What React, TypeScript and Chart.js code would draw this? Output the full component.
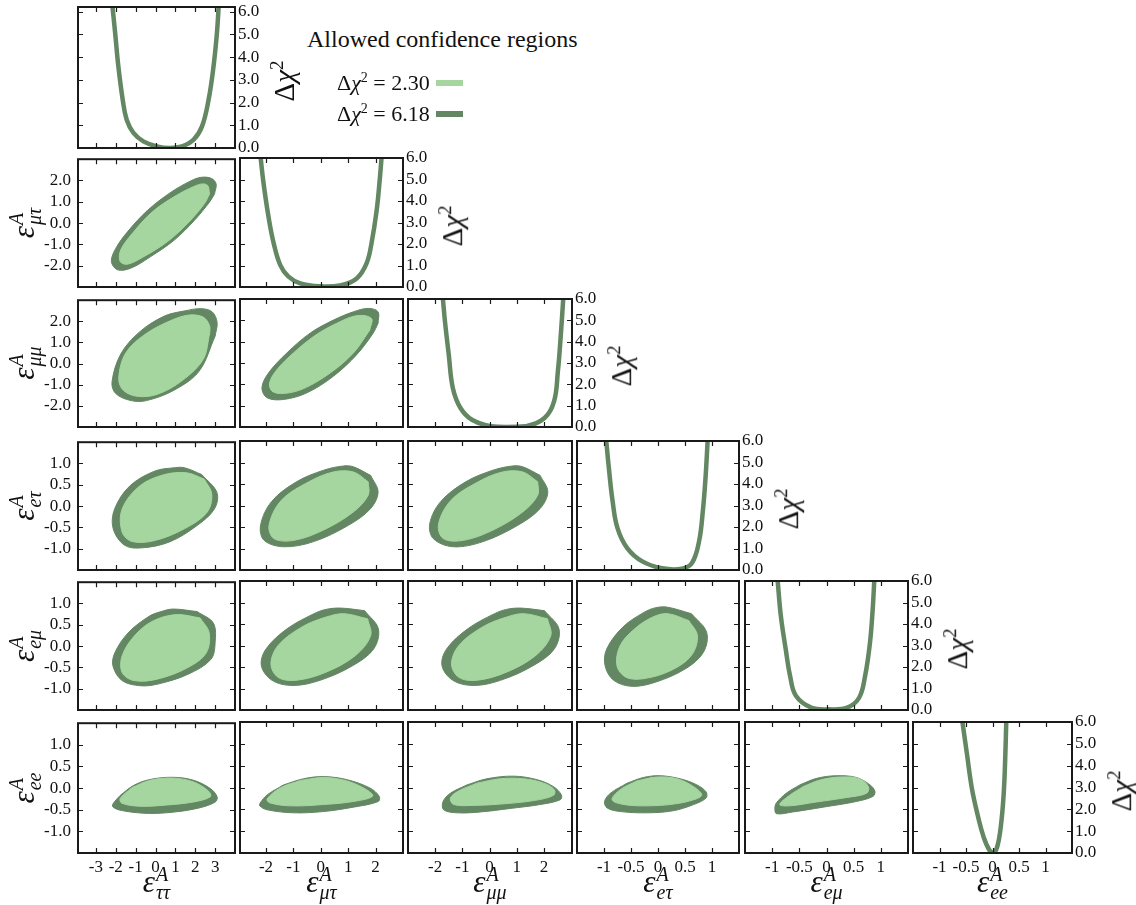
import React, { useEffect, useRef } from 'react';
import { Chart, registerables } from 'chart.js';

Chart.register(...registerables);

// ---------------- data ----------------
const PARAM_SUBS = ['ττ', 'μτ', 'μμ', 'eτ', 'eμ', 'ee'];
const LEVELS = ['2.30', '6.18'];

// axis ranges per parameter (as x axis) and per row (as y axis)
const X_MIN = [-3.9, -2.95, -3.0, -1.5, -1.5, -1.5];
const X_MAX = [4.0, 3.0, 3.03, 1.5, 1.5, 1.5];
const Y_MIN = [0, -3, -3, -1.5, -1.5, -1.5];
const Y_MAX = [6.2, 3, 3, 1.5, 1.5, 1.5];
const CHI_MAX = [6.2, 6, 6, 6, 6, 6];

const TICKS_TT = [-3, -2, -1, 0, 1, 2, 3];
const TICKS_MU = [-2, -1, 0, 1, 2];
const TICKS_E = [-1, -0.5, 0, 0.5, 1];
const TICK_LABELS_TT = ['-3', '-2', '-1', '0', '1', '2', '3'];
const TICK_LABELS_MU = ['-2', '-1', '0', '1', '2'];
const TICK_LABELS_E = ['-1', '-0.5', '0', '0.5', '1'];
const YTICK_LABELS_MU = ['-2.0', '-1.0', '0.0', '1.0', '2.0'];
const YTICK_LABELS_E = ['-1.0', '-0.5', '0.0', '0.5', '1.0'];
const CHI_TICKS = [0, 1, 2, 3, 4, 5, 6];
const CHI_TICK_LABELS = ['0.0', '1.0', '2.0', '3.0', '4.0', '5.0', '6.0'];

// 1D profiles  [epsilon, delta chi^2]
const CHI_TT = [[-2.17, 6.25], [-2.03, 5.05], [-1.87, 3.59], [-1.65, 2.12], [-1.45, 1.24], [-1.11, 0.66], [-0.61, 0.29], [0.07, 0.07], [0.74, 0.0], [1.33, 0.07], [1.92, 0.37], [2.34, 0.95], [2.67, 2.12], [2.92, 3.59], [3.09, 5.05], [3.18, 6.25]];
const CHI_MT = [[-2.2, 6.05], [-2.09, 4.82], [-1.91, 3.27], [-1.72, 2.03], [-1.48, 1.02], [-1.18, 0.48], [-0.75, 0.17], [-0.03, 0.03], [0.7, 0.07], [1.31, 0.4], [1.67, 1.1], [1.85, 2.03], [2.04, 3.58], [2.16, 5.13], [2.22, 6.05]];
const CHI_MM = [[-1.72, 6.05], [-1.64, 4.94], [-1.5, 3.38], [-1.35, 1.82], [-1.07, 0.89], [-0.65, 0.34], [0.05, 0.03], [0.61, 0.0], [1.32, 0.03], [2.02, 0.42], [2.37, 1.2], [2.51, 2.6], [2.61, 4.16], [2.71, 6.05]];
const CHI_ET = [[-0.96, 6.05], [-0.91, 4.74], [-0.84, 3.19], [-0.75, 1.95], [-0.57, 1.02], [-0.29, 0.4], [0.08, 0.08], [0.44, 0.06], [0.63, 0.33], [0.76, 1.33], [0.83, 2.73], [0.88, 4.28], [0.92, 6.05]];
const CHI_EM = [[-0.9, 6.05], [-0.84, 4.37], [-0.75, 2.82], [-0.67, 1.58], [-0.56, 0.65], [-0.28, 0.11], [0.05, 0.03], [0.38, 0.11], [0.6, 0.57], [0.71, 1.58], [0.8, 3.13], [0.85, 4.68], [0.88, 6.05]];
const CHI_EE = [[-0.57, 6.05], [-0.48, 4.5], [-0.39, 2.97], [-0.28, 1.74], [-0.17, 0.75], [-0.06, 0.14], [0.02, 0.02], [0.09, 0.29], [0.16, 1.28], [0.21, 2.66], [0.24, 4.34], [0.26, 6.05]];

// 2D regions: OUT = Δχ² 6.18 boundary, IN = Δχ² 2.30 boundary; name = X_Y
const OUT_TT_MT = [[2.97, 1.37], [2.72, 0.99], [1.96, 0.13], [0.94, -0.8], [-0.24, -1.57], [-1.25, -2.12], [-1.92, -2.19], [-2.22, -1.8], [-2.0, -1.19], [-1.41, -0.41], [-0.4, 0.6], [0.78, 1.45], [1.79, 1.99], [2.3, 2.15], [2.81, 2.1], [3.05, 1.84]];
const IN_TT_MT = [[2.72, 1.37], [2.46, 0.91], [1.61, -0.02], [0.6, -0.87], [-0.58, -1.57], [-1.41, -1.93], [-1.78, -1.8], [-1.75, -1.26], [-1.17, -0.49], [-0.17, 0.52], [1.03, 1.29], [1.96, 1.73], [2.37, 1.84], [2.63, 1.76]];

const OUT_TT_MM = [[3.0, 1.3], [2.2, -0.35], [0.95, -1.25], [-0.45, -1.75], [-1.23, -1.75], [-2.0, -1.42], [-2.19, -0.88], [-1.75, 0.45], [-0.8, 1.5], [0.45, 2.25], [1.5, 2.5], [2.3, 2.6], [2.85, 2.45], [3.1, 1.95]];
const IN_TT_MM = [[2.73, 1.45], [2.4, 0.2], [1.35, -0.8], [0.1, -1.45], [-0.9, -1.55], [-1.61, -1.27], [-1.85, -0.7], [-1.5, 0.5], [-0.5, 1.4], [0.8, 2.05], [1.7, 2.3], [2.4, 2.2], [2.72, 1.8]];
const OUT_MT_MM = [[2.09, 1.86], [1.91, 1.4], [1.31, 0.39], [0.46, -0.62], [-0.51, -1.4], [-1.36, -1.71], [-1.96, -1.63], [-2.15, -1.16], [-1.91, -0.47], [-1.24, 0.47], [-0.39, 1.4], [0.46, 2.01], [1.19, 2.4], [1.73, 2.56], [2.09, 2.4]];
const IN_MT_MM = [[1.79, 1.55], [1.19, 0.47], [0.34, -0.47], [-0.63, -1.2], [-1.36, -1.43], [-1.78, -1.32], [-1.87, -0.93], [-1.6, -0.31], [-1.0, 0.47], [-0.21, 1.29], [0.58, 1.86], [1.31, 2.22], [1.85, 2.09]];

const OUT_TT_ET = [[2.33, 0.74], [3.09, 0.32], [2.96, -0.07], [2.08, -0.46], [0.71, -0.84], [-0.68, -0.98], [-1.55, -0.92], [-2.13, -0.53], [-2.06, -0.07], [-1.3, 0.47], [-0.05, 0.82], [0.95, 0.9], [1.46, 0.9]];
const IN_TT_ET = [[2.46, 0.63], [2.83, 0.28], [2.59, -0.15], [1.46, -0.53], [-0.05, -0.81], [-1.18, -0.83], [-1.68, -0.61], [-1.68, -0.07], [-0.8, 0.47], [0.45, 0.74], [1.58, 0.78]];
const OUT_MT_ET = [[1.82, 0.7], [2.09, 0.32], [1.82, -0.07], [1.01, -0.46], [-0.26, -0.84], [-1.35, -0.96], [-2.07, -0.81], [-2.2, -0.46], [-1.8, 0.09], [-0.89, 0.55], [0.1, 0.82], [0.83, 0.92], [1.19, 0.9]];
const IN_MT_ET = [[1.73, 0.55], [1.73, 0.24], [1.19, -0.15], [0.1, -0.57], [-0.98, -0.81], [-1.71, -0.77], [-1.89, -0.46], [-1.44, 0.12], [-0.44, 0.55], [0.46, 0.78], [1.19, 0.78]];
const OUT_MM_ET = [[1.86, 0.7], [2.14, 0.32], [1.86, -0.07], [1.04, -0.46], [-0.24, -0.84], [-1.34, -0.96], [-2.07, -0.77], [-2.2, -0.42], [-1.8, 0.09], [-0.88, 0.55], [0.12, 0.82], [0.85, 0.92], [1.22, 0.9]];
const IN_MM_ET = [[1.77, 0.55], [1.77, 0.24], [1.22, -0.15], [0.13, -0.57], [-0.96, -0.81], [-1.7, -0.77], [-1.88, -0.44], [-1.42, 0.12], [-0.42, 0.55], [0.48, 0.78], [1.22, 0.78]];

const OUT_TT_EM = [[2.1, 0.81], [2.91, 0.54], [3.0, 0.08], [2.79, -0.31], [1.64, -0.66], [0.13, -0.89], [-0.78, -0.93], [-1.68, -0.81], [-2.14, -0.47], [-2.05, -0.16], [-1.38, 0.31], [-0.32, 0.7], [0.28, 0.81], [0.89, 0.87]];
const IN_TT_EM = [[2.25, 0.66], [2.7, 0.31], [2.55, -0.16], [1.64, -0.5], [0.13, -0.77], [-1.08, -0.81], [-1.68, -0.62], [-1.68, -0.23], [-1.08, 0.23], [-0.17, 0.58], [1.04, 0.74]];
const OUT_MT_EM = [[1.6, 0.81], [2.1, 0.39], [1.93, -0.08], [1.16, -0.47], [-0.03, -0.81], [-1.01, -0.93], [-1.78, -0.81], [-2.17, -0.47], [-2.0, -0.08], [-1.23, 0.39], [-0.25, 0.74], [0.19, 0.84], [0.73, 0.87]];
const IN_MT_EM = [[1.71, 0.62], [1.82, 0.23], [1.27, -0.23], [0.19, -0.62], [-0.91, -0.81], [-1.56, -0.74], [-1.82, -0.43], [-1.56, 0.0], [-0.69, 0.43], [0.19, 0.66], [0.84, 0.74]];
const OUT_MM_EM = [[2.02, 0.81], [2.55, 0.39], [2.38, -0.08], [1.6, -0.47], [0.4, -0.81], [-0.58, -0.93], [-1.35, -0.81], [-1.75, -0.47], [-1.58, -0.08], [-0.8, 0.39], [0.18, 0.74], [0.62, 0.84], [1.15, 0.87]];
const IN_MM_EM = [[2.13, 0.62], [2.25, 0.23], [1.7, -0.23], [0.62, -0.62], [-0.48, -0.81], [-1.13, -0.74], [-1.4, -0.43], [-1.13, 0.0], [-0.26, 0.43], [0.62, 0.66], [1.26, 0.74]];
const OUT_ET_EM = [[0.62, 0.74], [0.9, 0.31], [0.84, -0.16], [0.51, -0.54], [-0.04, -0.85], [-0.48, -0.95], [-0.82, -0.81], [-0.98, -0.47], [-0.95, -0.08], [-0.65, 0.43], [-0.26, 0.77], [-0.04, 0.88], [0.18, 0.89]];
const IN_ET_EM = [[0.57, 0.58], [0.73, 0.23], [0.62, -0.23], [0.24, -0.58], [-0.26, -0.77], [-0.59, -0.74], [-0.76, -0.47], [-0.7, 0.0], [-0.43, 0.39], [-0.1, 0.66], [0.18, 0.74]];

const OUT_TT_EE = [[-1.78, -0.17], [-1.11, 0.06], [-0.27, 0.2], [0.91, 0.25], [1.92, 0.18], [2.76, -0.01], [3.1, -0.2], [3.01, -0.32], [2.09, -0.47], [0.57, -0.57], [-0.61, -0.58], [-1.78, -0.51], [-2.15, -0.43], [-2.12, -0.35]];
const IN_TT_EE = [[-1.19, 0.01], [-0.27, 0.18], [0.91, 0.23], [1.92, 0.14], [2.67, -0.07], [2.76, -0.2], [1.92, -0.32], [0.57, -0.39], [-0.77, -0.42], [-1.69, -0.35], [-1.78, -0.24]];
const OUT_MT_EE = [[-1.36, 0.06], [-0.63, 0.2], [0.1, 0.25], [0.95, 0.18], [1.79, -0.01], [2.13, -0.2], [2.1, -0.32], [1.19, -0.45], [0.1, -0.55], [-1.0, -0.58], [-1.96, -0.51], [-2.23, -0.42], [-2.21, -0.35], [-1.96, -0.17]];
const IN_MT_EE = [[-0.75, 0.16], [0.1, 0.23], [0.95, 0.15], [1.67, -0.05], [1.89, -0.2], [1.19, -0.32], [0.1, -0.39], [-1.12, -0.42], [-1.87, -0.35], [-1.96, -0.26], [-1.48, -0.01]];
const OUT_MM_EE = [[-0.83, 0.06], [-0.1, 0.2], [0.88, 0.26], [1.74, 0.18], [2.35, 0.02], [2.64, -0.17], [2.6, -0.28], [1.86, -0.39], [0.76, -0.48], [-0.34, -0.56], [-1.2, -0.58], [-1.69, -0.51], [-1.71, -0.32], [-1.44, -0.13]];
const IN_MM_EE = [[-0.46, 0.1], [0.39, 0.2], [1.25, 0.2], [1.99, 0.1], [2.38, -0.05], [2.35, -0.18], [1.62, -0.3], [0.39, -0.38], [-0.59, -0.41], [-1.32, -0.39], [-1.44, -0.24], [-1.14, -0.08]];
const OUT_ET_EE = [[-0.57, 0.1], [-0.27, 0.23], [0.04, 0.27], [0.41, 0.2], [0.72, 0.06], [0.89, -0.1], [0.89, -0.24], [0.66, -0.39], [0.29, -0.53], [-0.2, -0.58], [-0.7, -0.55], [-0.94, -0.47], [-0.99, -0.32], [-0.88, -0.13]];
const IN_ET_EE = [[-0.39, 0.15], [-0.02, 0.24], [0.35, 0.2], [0.66, 0.02], [0.81, -0.17], [0.66, -0.28], [0.29, -0.38], [-0.2, -0.42], [-0.63, -0.39], [-0.85, -0.28], [-0.7, -0.05]];
const OUT_EM_EE = [[-0.49, 0.06], [-0.18, 0.21], [0.18, 0.27], [0.55, 0.23], [0.8, 0.06], [0.89, -0.08], [0.86, -0.2], [0.55, -0.32], [-0.06, -0.45], [-0.62, -0.56], [-0.92, -0.6], [-0.95, -0.47], [-0.92, -0.35], [-0.74, -0.13]];
const IN_EM_EE = [[-0.43, 0.02], [-0.12, 0.17], [0.25, 0.24], [0.61, 0.2], [0.77, 0.02], [0.74, -0.13], [0.37, -0.23], [-0.18, -0.33], [-0.68, -0.42], [-0.86, -0.39], [-0.68, -0.18]];

// ---------------- tables built from the data ----------------
const X_TICKS = [TICKS_TT, TICKS_MU, TICKS_MU, TICKS_E, TICKS_E, TICKS_E];
const X_TICK_LABELS = [TICK_LABELS_TT, TICK_LABELS_MU, TICK_LABELS_MU, TICK_LABELS_E, TICK_LABELS_E, TICK_LABELS_E];
const Y_TICKS = [CHI_TICKS, TICKS_MU, TICKS_MU, TICKS_E, TICKS_E, TICKS_E];
const Y_TICK_LABELS = [CHI_TICK_LABELS, YTICK_LABELS_MU, YTICK_LABELS_MU, YTICK_LABELS_E, YTICK_LABELS_E, YTICK_LABELS_E];
const PROFILES = [CHI_TT, CHI_MT, CHI_MM, CHI_ET, CHI_EM, CHI_EE];
const REGIONS: Record<string, number[][][]> = {
  '1-0': [IN_TT_MT, OUT_TT_MT],
  '2-0': [IN_TT_MM, OUT_TT_MM], '2-1': [IN_MT_MM, OUT_MT_MM],
  '3-0': [IN_TT_ET, OUT_TT_ET], '3-1': [IN_MT_ET, OUT_MT_ET], '3-2': [IN_MM_ET, OUT_MM_ET],
  '4-0': [IN_TT_EM, OUT_TT_EM], '4-1': [IN_MT_EM, OUT_MT_EM], '4-2': [IN_MM_EM, OUT_MM_EM], '4-3': [IN_ET_EM, OUT_ET_EM],
  '5-0': [IN_TT_EE, OUT_TT_EE], '5-1': [IN_MT_EE, OUT_MT_EE], '5-2': [IN_MM_EE, OUT_MM_EE], '5-3': [IN_ET_EE, OUT_ET_EE], '5-4': [IN_EM_EE, OUT_EM_EE],
};

// ---------------- layout & style ----------------
const COL_L = [78, 240, 408, 577, 745, 913];
const COL_R = [235, 403, 572, 739, 908, 1072];
const ROW_T = [7, 158, 299, 441, 581, 722];
const ROW_B = [148, 287, 427, 570, 710, 853];
const PAD_L = 70, PAD_R = 40, PAD_T = 16, PAD_B = 34;
const LIGHT = '#a6d6a0';
const DARK = '#628762';
const SERIF = "'Liberation Serif', 'DejaVu Serif', serif";
const TICK_FONT = { family: SERIF, size: 17 };

const frameTicks = {
  id: 'frameTicks',
  afterDraw(chart: any) {
    const { ctx, chartArea: a, scales } = chart;
    const xs = scales.x, ys = scales.y;
    ctx.save();
    ctx.strokeStyle = '#1a1a1a';
    ctx.lineWidth = 1.2;
    ctx.beginPath();
    xs.ticks.forEach((t: any) => {
      const p = Math.round(xs.getPixelForValue(t.value)) + 0.5;
      ctx.moveTo(p, a.bottom); ctx.lineTo(p, a.bottom - 5);
      ctx.moveTo(p, a.top); ctx.lineTo(p, a.top + 5);
    });
    ys.ticks.forEach((t: any) => {
      const p = Math.round(ys.getPixelForValue(t.value)) + 0.5;
      ctx.moveTo(a.left, p); ctx.lineTo(a.left + 5, p);
      ctx.moveTo(a.right, p); ctx.lineTo(a.right - 5, p);
    });
    ctx.stroke();
    ctx.lineWidth = 2;
    ctx.strokeRect(a.left, a.top, a.right - a.left, a.bottom - a.top);
    ctx.restore();
  },
};

const toXY = (pts: number[][]) => pts.map(([x, y]) => ({ x, y }));
const closed = (pts: number[][]) => toXY([...pts, pts[0]]);

function Panel({ row, col }: { row: number; col: number }) {
  const ref = useRef<HTMLCanvasElement>(null);
  const W = COL_R[col] - COL_L[col];
  const H = ROW_B[row] - ROW_T[row];
  const cw = W + PAD_L + PAD_R;
  const ch = H + PAD_T + PAD_B;

  useEffect(() => {
    const diag = row === col;
    let datasets: any[];
    if (diag) {
      datasets = [{
        data: toXY(PROFILES[col]), borderColor: DARK, borderWidth: 4.5, pointRadius: 0,
        fill: false, tension: 0.4, clip: 0,
      }];
    } else {
      const [inner, outer] = REGIONS[`${row}-${col}`];
      datasets = [
        { data: closed(inner), backgroundColor: LIGHT, borderColor: LIGHT, borderWidth: 1, fill: 'shape', pointRadius: 0, tension: 0.35, clip: 0 },
        { data: closed(outer), backgroundColor: DARK, borderColor: DARK, borderWidth: 1, fill: 'shape', pointRadius: 0, tension: 0.35, clip: 0 },
      ];
    }
    const xTicks = X_TICKS[col];
    const xLabels = X_TICK_LABELS[col];
    const yTicks = diag ? CHI_TICKS : Y_TICKS[row];
    const yLabels = diag ? CHI_TICK_LABELS : Y_TICK_LABELS[row];
    const chart = new Chart(ref.current as HTMLCanvasElement, {
      type: 'line',
      data: { datasets },
      options: {
        animation: false,
        responsive: false,
        devicePixelRatio: 1,
        events: [],
        layout: { padding: { top: PAD_T, left: diag ? PAD_L : 0, right: diag ? 0 : PAD_R, bottom: 0 } },
        plugins: { legend: { display: false }, tooltip: { enabled: false } },
        scales: {
          x: {
            type: 'linear', position: 'bottom', min: X_MIN[col], max: X_MAX[col],
            afterBuildTicks: (s: any) => { s.ticks = xTicks.map((v) => ({ value: v })); },
            afterFit: (s: any) => { s.height = PAD_B; },
            grid: { display: false, drawTicks: false }, border: { display: false },
            ticks: {
              display: row === 5, autoSkip: false, maxRotation: 0, minRotation: 0, padding: 4,
              color: '#111', font: TICK_FONT, callback: (_v: any, i: number) => xLabels[i],
            },
          },
          y: {
            type: 'linear', position: diag ? 'right' : 'left',
            min: diag ? 0 : Y_MIN[row], max: diag ? CHI_MAX[row] : Y_MAX[row],
            afterBuildTicks: (s: any) => { s.ticks = yTicks.map((v) => ({ value: v })); },
            afterFit: (s: any) => { s.width = diag ? PAD_R : PAD_L; },
            grid: { display: false, drawTicks: false }, border: { display: false },
            ticks: {
              display: diag || col === 0, autoSkip: false, padding: diag ? 3 : 7,
              color: '#111', font: TICK_FONT, callback: (_v: any, i: number) => yLabels[i],
            },
          },
        },
      } as any,
      plugins: [frameTicks],
    });
    return () => chart.destroy();
  }, [row, col]);

  return (
    <canvas
      ref={ref}
      width={cw}
      height={ch}
      style={{ position: 'absolute', left: COL_L[col] - PAD_L, top: ROW_T[row] - PAD_T, width: cw, height: ch }}
    />
  );
}

function EpsLabel({ sub, x, y, vertical }: { sub: string; x: number; y: number; vertical?: boolean }) {
  return (
    <div
      style={{
        position: 'absolute', left: x, top: y,
        transform: `translate(-50%, -50%)${vertical ? ' rotate(-90deg)' : ''}`,
        display: 'flex', alignItems: 'center', fontFamily: SERIF, fontStyle: 'italic',
        whiteSpace: 'nowrap', lineHeight: 1, color: '#111',
      }}
    >
      <span style={{ fontSize: 31, position: 'relative', top: -2 }}>ε</span>
      <span style={{ display: 'flex', flexDirection: 'column', fontSize: 20, marginLeft: 1, lineHeight: 0.92 }}>
        <span>A</span>
        <span>{sub}</span>
      </span>
    </div>
  );
}

function ChiLabel({ x, y }: { x: number; y: number }) {
  return (
    <div
      style={{
        position: 'absolute', left: x, top: y, transform: 'translate(-50%, -50%) rotate(-90deg)',
        fontFamily: SERIF, fontSize: 29, whiteSpace: 'nowrap', lineHeight: 1, color: '#111',
      }}
    >
      Δ<i>χ</i><sup style={{ fontSize: 19 }}>2</sup>
    </div>
  );
}

export default function App() {
  const panels: JSX.Element[] = [];
  for (let r = 0; r < 6; r++) {
    for (let c = 0; c <= r; c++) panels.push(<Panel key={`${r}-${c}`} row={r} col={c} />);
  }
  const legendColors = [LIGHT, DARK];
  return (
    <div style={{ position: 'absolute', left: 0, top: 0, width: 1136, height: 905, background: '#fff', overflow: 'hidden' }}>
      {panels}
      {PARAM_SUBS.map((s, i) => (
        <EpsLabel key={`xl${i}`} sub={s} x={(COL_L[i] + COL_R[i]) / 2} y={883} />
      ))}
      {PARAM_SUBS.slice(1).map((s, i) => (
        <EpsLabel key={`yl${i}`} sub={s} x={25} y={(ROW_T[i + 1] + ROW_B[i + 1]) / 2} vertical />
      ))}
      {PARAM_SUBS.map((_s, i) => (
        <ChiLabel key={`cl${i}`} x={COL_R[i] + 48} y={(ROW_T[i] + ROW_B[i]) / 2 + 3} />
      ))}
      <div style={{ position: 'absolute', left: 307, top: 26, fontFamily: SERIF, fontSize: 24, color: '#111', whiteSpace: 'nowrap', lineHeight: 1.1 }}>
        Allowed confidence regions
      </div>
      {LEVELS.map((lv, i) => (
        <div key={lv} style={{ position: 'absolute', left: 337, top: 70 + i * 31, height: 26, display: 'flex', alignItems: 'center', fontFamily: SERIF, fontSize: 22, color: '#111', whiteSpace: 'nowrap' }}>
          <span>Δ<i>χ</i><sup style={{ fontSize: 14 }}>2</sup>&nbsp;=&nbsp;{lv}</span>
          <span style={{ display: 'inline-block', width: 27, height: 6, background: legendColors[i], marginLeft: 6 }} />
        </div>
      ))}
    </div>
  );
}
